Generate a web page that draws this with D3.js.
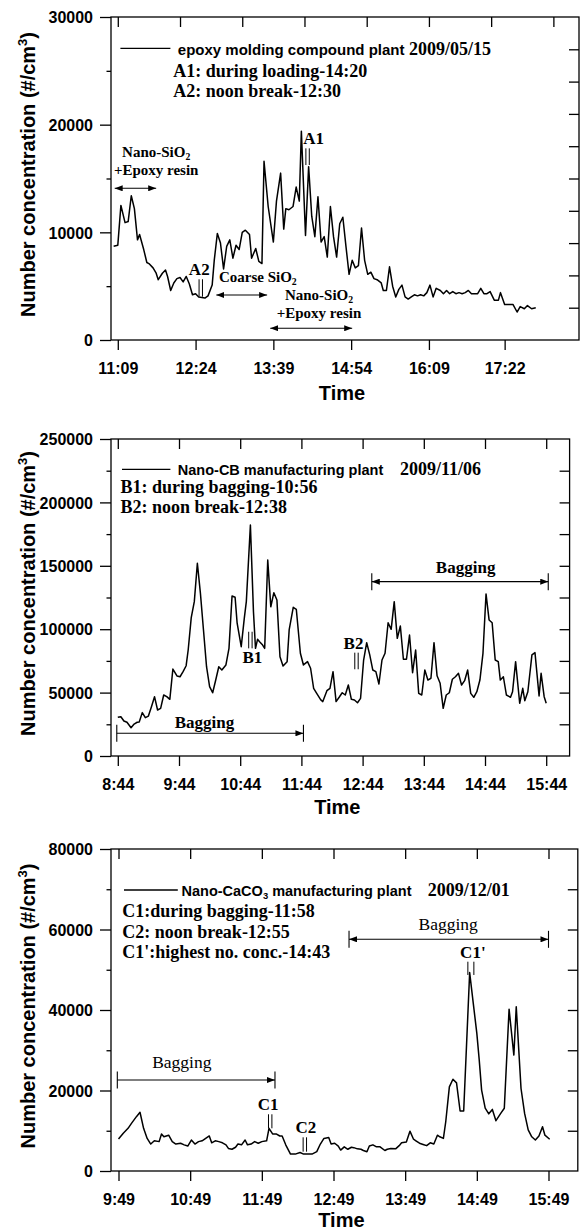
<!DOCTYPE html>
<html>
<head>
<meta charset="utf-8">
<script src="https://cdn.jsdelivr.net/npm/d3@7"></script>
<style>
  html, body { margin: 0; padding: 0; background: #fff; }
  svg { display: block; }
  .axis text { font-family: "Liberation Sans", Arial, sans-serif; font-weight: bold; font-size: 16px; fill: #000; }
  .axis line { stroke: #000; stroke-width: 1.3; }
  .sans { font-family: "Liberation Sans", Arial, sans-serif; font-weight: bold; fill: #000; }
  .serif { font-family: "Liberation Serif", "Times New Roman", serif; fill: #000; }
</style>
</head>
<body>
<svg id="chart" width="582" height="1232"></svg>
<script>
// ---------------- data ----------------
// Epoxy molding compound plant, 2009/05/15
const epoxyTimes = ["11:05","11:09","11:12","11:16","11:19","11:22","11:25","11:28","11:30","11:34",
  "11:37","11:39","11:43","11:46","11:48","11:52","11:55","11:57","12:00","12:03",
  "12:06","12:09","12:12","12:15","12:18","12:21","12:24","12:27","12:30","12:33",
  "12:36","12:40","12:42","12:45","12:48","12:51","12:54","12:57","13:00","13:03",
  "13:06","13:09","13:12","13:16","13:18","13:22","13:25","13:28","13:30","13:34",
  "13:39","13:42","13:46","13:49","13:51","13:54","13:58","14:01","14:04","14:06",
  "14:10","14:13","14:16","14:19","14:22","14:25","14:28","14:31","14:34","14:37",
  "14:40","14:43","14:46","14:49","14:52","14:55","14:58","15:01","15:04","15:07",
  "15:10","15:13","15:16","15:19","15:23","15:25","15:28","15:31","15:34","15:37",
  "15:40","15:43","15:46","15:49","15:52","15:55","15:58","16:01","16:04","16:07",
  "16:10","16:13","16:16","16:20","16:23","16:26","16:29","16:32","16:35","16:38",
  "16:41","16:44","16:47","16:50","16:53","16:56","16:59","17:02","17:05","17:08",
  "17:12","17:16","17:18","17:22","17:26","17:30","17:34","17:37","17:41","17:44",
  "17:48","17:52"];
const epoxyValues = [8700,8800,12500,10900,11000,13400,12200,9300,9800,8400,
  7200,7100,6700,6200,5600,6200,6500,5900,4600,5300,
  5700,5800,5400,5900,5200,4200,4300,4000,3950,3900,
  4100,5100,7400,9900,9000,6600,8700,9300,7600,8800,
  8400,10000,10200,9800,7600,8500,7300,7100,16600,12400,
  9100,12900,15500,10300,12200,12100,12400,14200,12900,19400,
  9700,16100,11500,9600,13300,9100,9600,7700,12400,9600,
  7700,10800,11400,8700,6100,7400,6700,6900,10400,7400,
  6100,6300,5700,5600,5300,4600,4600,6800,5000,4000,
  4700,5100,4000,3800,4000,4200,4100,4200,4100,4400,
  5100,4000,4800,4600,4300,4600,4300,4500,4300,4400,
  4300,4400,4600,4300,4300,4300,4800,4300,4300,4500,
  3700,3700,4400,3300,3300,3300,2600,3100,2900,3200,
  2900,3000];
const epoxyTickLabels = ["11:09","12:24","13:39","14:54","16:09","17:22"];

// Nano-CB manufacturing plant, 2009/11/06
const cbTimes = ["8:44","8:47","8:50","8:53","8:57","9:00","9:03","9:05","9:08","9:11",
  "9:14","9:17","9:20","9:23","9:26","9:29","9:32","9:35","9:38","9:42",
  "9:45","9:48","9:51","9:53","9:56","9:59","10:02","10:05","10:08","10:11",
  "10:14","10:17","10:20","10:23","10:26","10:30","10:33","10:36","10:39","10:41",
  "10:45","10:48","10:50","10:54","10:57","10:59","11:01","11:03","11:06","11:08",
  "11:11","11:14","11:17","11:20","11:23","11:26","11:30","11:32","11:36","11:39",
  "11:43","11:46","11:50","11:53","11:56","11:59","12:03","12:05","12:09","12:12",
  "12:15","12:18","12:21","12:24","12:27","12:30","12:33","12:36","12:39","12:42",
  "12:45","12:48","12:51","12:54","12:57","13:00","13:03","13:06","13:09","13:12",
  "13:15","13:18","13:21","13:24","13:27","13:30","13:33","13:36","13:39","13:42",
  "13:45","13:48","13:51","13:54","13:57","14:00","14:03","14:06","14:09","14:12",
  "14:15","14:18","14:21","14:24","14:27","14:30","14:33","14:36","14:39","14:42",
  "14:45","14:48","14:51","14:54","14:57","14:59","15:02","15:05","15:09","15:11",
  "15:14","15:18","15:21","15:23","15:26","15:30","15:33","15:37","15:39","15:42",
  "15:44"];
const cbValues = [30500,31000,27600,26600,22300,25200,26600,26800,34200,30200,
  31500,38900,46800,36300,37600,48100,46800,44700,68600,63100,
  62500,66500,71200,83600,109100,121700,152000,128300,99400,70400,
  54700,49900,59900,70400,67800,71800,84900,126200,125200,104700,
  86200,108600,121700,182200,113800,84900,92000,90100,87500,84900,
  154600,117700,128800,123000,78300,71000,74400,99400,117300,115700,
  81000,71800,74400,69200,53400,49400,44200,42900,51500,53400,
  66500,42900,46300,49900,48100,56000,44700,44200,42000,45500,
  75700,89400,79700,67800,66500,56800,75700,81000,105100,99900,
  121700,92800,102500,76300,76300,95400,65700,83600,49400,48100,
  67800,59900,61300,89400,63300,57300,37600,48100,49900,60500,
  62500,65200,56000,59400,67800,49400,46300,50700,59900,81000,
  127800,107300,105100,75700,74400,59900,62500,48100,46300,50700,
  74400,41600,53400,43600,50700,79700,81500,47300,65200,46800,
  41600];
const cbTickLabels = ["8:44","9:44","10:44","11:44","12:44","13:44","14:44","15:44"];

// Nano-CaCO3 manufacturing plant, 2009/12/01
const caco3Times = ["9:49","9:53","9:57","10:00","10:04","10:07","10:10","10:13","10:16","10:19",
  "10:23","10:25","10:27","10:31","10:34","10:37","10:41","10:44","10:47","10:50",
  "10:53","10:56","10:59","11:02","11:05","11:07","11:10","11:13","11:16","11:19",
  "11:21","11:24","11:27","11:29","11:32","11:35","11:37","11:40","11:43","11:46",
  "11:49","11:53","11:55","11:58","12:01","12:04","12:06","12:09","12:13","12:17",
  "12:21","12:24","12:27","12:31","12:35","12:38","12:41","12:45","12:47","12:50",
  "12:53","12:55","12:58","13:01","13:04","13:06","13:09","13:12","13:14","13:17",
  "13:19","13:22","13:25","13:28","13:32","13:34","13:37","13:41","13:44","13:46",
  "13:50","13:53","13:56","13:58","14:01","14:04","14:07","14:10","14:13","14:16",
  "14:18","14:21","14:23","14:26","14:29","14:32","14:35","14:38","14:43","14:46",
  "14:49","14:51","14:53","14:56","14:59","15:02","15:05","15:09","15:12","15:16",
  "15:20","15:22","15:26","15:29","15:32","15:35","15:38","15:41","15:44","15:46",
  "15:50"];
const caco3Values = [7950,9400,10600,11900,13500,14600,10600,8100,6700,7500,
  7300,9200,8500,8900,7300,6700,6900,6500,6200,7700,
  6700,7300,7500,8100,8700,7000,7500,7300,7000,6500,
  5600,5400,5900,6700,6500,7700,6500,6700,7300,6900,
  7300,7500,10600,9200,9200,8700,8700,6500,4200,4200,
  4600,4200,4200,4200,4800,6700,8100,8300,6700,6900,
  6200,5200,6000,5400,5900,5800,5500,5400,5100,4800,
  6200,6500,6000,6000,5100,5400,5600,5500,6300,7000,
  7200,9900,7900,7500,6900,6600,6300,7000,6700,8900,
  8500,8100,12300,20900,22800,21900,14900,14900,49300,41700,
  34200,27600,20100,15600,14200,15300,12500,14300,15600,40200,
  28800,40800,20500,14300,10200,8500,7700,8700,11000,8900,
  7900];
const caco3TickLabels = ["9:49","10:49","11:49","12:49","13:49","14:49","15:49"];

// ---------------- drawing ----------------
const svg = d3.select("#chart");
const parseHM = d3.timeParse("%H:%M");
const parseHMS = d3.timeParse("%H:%M:%S");

const defs = svg.append("defs");
defs.append("marker")
  .attr("id", "head")
  .attr("viewBox", "0 -3 8 6")
  .attr("markerUnits", "userSpaceOnUse")
  .attr("markerWidth", 8).attr("markerHeight", 6)
  .attr("refX", 8).attr("refY", 0)
  .attr("orient", "auto-start-reverse")
  .append("path").attr("d", "M0,-3L8,0L0,3Z").attr("fill", "#000");

function addText(g, x, y, str, cls, size, anchor) {
  return g.append("text").attr("class", cls).attr("x", x).attr("y", y)
    .attr("font-size", size).attr("text-anchor", anchor || "start").text(str);
}

// text with a subscript digit in the middle or at the end
function addSubText(g, x, y, before, sub, after, cls, size, anchor) {
  const t = g.append("text").attr("class", cls).attr("x", x).attr("y", y)
    .attr("font-size", size).attr("text-anchor", anchor || "start");
  t.append("tspan").text(before);
  t.append("tspan").attr("font-size", size * 0.65).attr("dy", size * 0.2).text(sub);
  if (after) t.append("tspan").attr("dy", -size * 0.2).text(after);
  return t;
}

function drawPanel(p) {
  const x = d3.scaleTime().domain(p.xDomain.map(parseHMS)).range([p.left, p.right]);
  const y = d3.scaleLinear().domain([0, p.yMax]).range([p.bottom, p.top]);
  const g = svg.append("g");

  // bottom axis with labels
  const bottom = g.append("g").attr("class", "axis").attr("transform", `translate(0,${p.bottom})`)
    .call(d3.axisBottom(x).tickValues(p.xLabels.map(parseHM)).tickSize(10)
      .tickFormat((d, i) => p.xLabels[i]));
  bottom.selectAll("text").attr("y", 34).attr("dy", null);

  // top axis: hourly inward ticks
  const first = parseHM(p.xLabels[0]);
  const hourly = d3.range(p.topCount).map(i => d3.timeMinute.offset(first, 60 * i));
  g.append("g").attr("class", "axis").attr("transform", `translate(0,${p.top})`)
    .call(d3.axisTop(x).tickValues(hourly).tickSize(-10).tickFormat(""));

  // left axis: labelled majors + short minors
  const left = g.append("g").attr("class", "axis").attr("transform", `translate(${p.left},0)`)
    .call(d3.axisLeft(y).tickValues(p.yMajor).tickSize(11).tickFormat(d3.format("d")));
  left.selectAll("text").attr("x", -18).attr("dy", "0.36em");
  const minors = d3.range(0, p.yMax + 1, p.yMinorStep).filter(v => !p.yMajor.includes(v));
  g.append("g").attr("class", "axis").attr("transform", `translate(${p.left},0)`)
    .call(d3.axisLeft(y).tickValues(minors).tickSize(4.5).tickFormat(""));

  // right axis: inward ticks
  g.append("g").attr("class", "axis").attr("transform", `translate(${p.right},0)`)
    .call(d3.axisRight(y).tickValues(d3.range(p.yRightStep, p.yMax, p.yRightStep)).tickSize(-10).tickFormat(""));

  g.selectAll(".domain").remove();

  // frame
  g.append("rect").attr("x", p.left).attr("y", p.top)
    .attr("width", p.right - p.left).attr("height", p.bottom - p.top)
    .attr("fill", "none").attr("stroke", "#000").attr("stroke-width", 1.3);

  // series
  const pts = p.times.map((t, i) => ({ t: parseHM(t), v: p.values[i] }));
  g.append("path").datum(pts)
    .attr("fill", "none").attr("stroke", "#000").attr("stroke-width", 1.5)
    .attr("stroke-linejoin", "round")
    .attr("d", d3.line().x(d => x(d.t)).y(d => y(d.v)));

  // axis titles
  const cy = (p.top + p.bottom) / 2 - 4;
  const yt = g.append("text").attr("class", "sans").attr("font-size", 20)
    .attr("text-anchor", "middle").attr("transform", `translate(35,${cy}) rotate(-90)`);
  yt.append("tspan").text("Number concentration (#/cm");
  yt.append("tspan").attr("font-size", 13).attr("dy", -8).text("3");
  yt.append("tspan").attr("dy", 8).text(")");
  addText(g, (p.left + p.right) / 2 - 3, p.bottom + p.titleGap, "Time", "sans", 20, "middle");

  // range arrows
  (p.arrows || []).forEach(a => {
    const x0 = x(parseHM(a.t0)), x1 = x(parseHM(a.t1)), yy = y(a.v);
    const ln = g.append("line").attr("x1", x0).attr("x2", x1).attr("y1", yy).attr("y2", yy)
      .attr("stroke", "#000").attr("stroke-width", 1.1);
    if (a.startHead) ln.attr("marker-start", "url(#head)");
    if (a.endHead) ln.attr("marker-end", "url(#head)");
    (a.bars || []).forEach(side => {
      const bx = side === "start" ? x0 : x1;
      g.append("line").attr("x1", bx).attr("x2", bx).attr("y1", yy - 8.5).attr("y2", yy + 8.5)
        .attr("stroke", "#000").attr("stroke-width", 1.1);
    });
  });

  // annotation text anchored in data space
  (p.notes || []).forEach(n => {
    const nx = x(parseHM(n.t)), ny = y(n.v);
    n.lines.forEach((l, i) => {
      const yy = ny + i * 17.7;
      let t;
      if (l.sub) t = addSubText(g, nx, yy, l.text, l.sub, "", "serif", n.size, "middle");
      else t = addText(g, nx, yy, l.text, "serif", n.size, "middle");
      t.attr("font-weight", n.weight || "bold");
    });
  });

  // sample markers ("||" with a label)
  (p.markers || []).forEach(m => {
    const mx = x(parseHM(m.t)), y0 = y(m.top), y1 = y(m.bottom);
    const gap = m.gap || 1.7;
    [-gap, gap].forEach(o => {
      g.append("line").attr("x1", mx + o).attr("x2", mx + o).attr("y1", y0).attr("y2", y1)
        .attr("stroke", "#000").attr("stroke-width", 1);
    });
    const ly = m.below ? y1 + 14.4 : y0 - 4;
    addText(g, mx + (m.dx || 0), ly, m.label, "serif", 17, "middle").attr("font-weight", "bold");
  });

  return g;
}

// ---- panel 1 ----
const g1 = drawPanel({
  times: epoxyTimes, values: epoxyValues, xLabels: epoxyTickLabels,
  left: 111, right: 579, top: 17, bottom: 340, titleGap: 60,
  xDomain: ["11:02:27", "18:33:42"], topCount: 8,
  yMax: 30000, yMajor: [0, 10000, 20000, 30000], yMinorStep: 5000, yRightStep: 3000,
  arrows: [
    { t0: "11:06", t1: "11:46", v: 14090, startHead: true, endHead: true },
    { t0: "12:44", t1: "13:33", v: 4180, startHead: true, endHead: true },
    { t0: "13:36", t1: "14:55", v: 1090, startHead: true, endHead: true }
  ],
  notes: [
    { t: "11:46", v: 16970, size: 15, lines: [{ text: "Nano-SiO", sub: "2" }, { text: "+Epoxy resin" }] },
    { t: "13:24", v: 5350, size: 15, lines: [{ text: "Coarse SiO", sub: "2" }] },
    { t: "14:23", v: 3700, size: 15, lines: [{ text: "Nano-SiO", sub: "2" }, { text: "+Epoxy resin" }] }
  ],
  markers: [
    { label: "A1", t: "14:12", top: 17800, bottom: 16250, dx: 6 },
    { label: "A2", t: "12:29", top: 5640, bottom: 4020, dx: -1.5 }
  ]
});
g1.append("line").attr("x1", 120.4).attr("x2", 170.4).attr("y1", 48.3).attr("y2", 48.3)
  .attr("stroke", "#000").attr("stroke-width", 1.3);
addText(g1, 177.8, 54.5, "epoxy molding compound plant", "sans", 15);
addText(g1, 409, 55, "2009/05/15", "serif", 18).attr("font-weight", "bold");
addText(g1, 173.3, 77.3, "A1: during loading-14:20", "serif", 18).attr("font-weight", "bold");
addText(g1, 173.3, 97.3, "A2: noon break-12:30", "serif", 18).attr("font-weight", "bold");

// ---- panel 2 ----
const g2 = drawPanel({
  times: cbTimes, values: cbValues, xLabels: cbTickLabels,
  left: 111, right: 569.6, top: 439, bottom: 756, titleGap: 58,
  xDomain: ["08:37:20", "16:06:56"], topCount: 8,
  yMax: 250000, yMajor: [0, 50000, 100000, 150000, 200000, 250000], yMinorStep: 25000, yRightStep: 25000,
  arrows: [
    { t0: "12:53", t1: "15:46", v: 137500, startHead: true, endHead: true, bars: ["start", "end"] },
    { t0: "8:43", t1: "11:46", v: 17900, endHead: true, bars: ["start", "end"] }
  ],
  notes: [
    { t: "14:25", v: 144100, size: 17, lines: [{ text: "Bagging" }] },
    { t: "10:09", v: 21800, size: 17, lines: [{ text: "Bagging" }] }
  ],
  markers: [
    { label: "B1", t: "10:54", top: 98000, bottom: 84900, below: true, dx: 2 },
    { label: "B2", t: "12:38", top: 81500, bottom: 68400, dx: -3 }
  ]
});
g2.append("line").attr("x1", 122).attr("x2", 170.4).attr("y1", 469.3).attr("y2", 469.3)
  .attr("stroke", "#000").attr("stroke-width", 1.3);
addText(g2, 177.8, 475, "Nano-CB manufacturing plant", "sans", 14.5);
addText(g2, 400, 475, "2009/11/06", "serif", 18).attr("font-weight", "bold");
addText(g2, 120.4, 493.3, "B1: during bagging-10:56", "serif", 18).attr("font-weight", "bold");
addText(g2, 120.4, 513.3, "B2: noon break-12:38", "serif", 18).attr("font-weight", "bold");

// ---- panel 3 ----
const g3 = drawPanel({
  times: caco3Times, values: caco3Values, xLabels: caco3TickLabels,
  left: 111, right: 577.8, top: 849, bottom: 1171, titleGap: 56,
  xDomain: ["09:42:43", "16:13:32"], topCount: 7,
  yMax: 80000, yMajor: [0, 20000, 40000, 60000, 80000], yMinorStep: 10000, yRightStep: 10000,
  arrows: [
    { t0: "13:02", t1: "15:49", v: 57560, startHead: true, endHead: true, bars: ["start", "end"] },
    { t0: "9:48", t1: "12:00", v: 22600, endHead: true, bars: ["start", "end"] }
  ],
  notes: [
    { t: "14:25", v: 59880, size: 17.5, weight: "normal", lines: [{ text: "Bagging" }] },
    { t: "10:42", v: 25590, size: 17.5, weight: "normal", lines: [{ text: "Bagging" }] }
  ],
  markers: [
    { label: "C1", t: "11:56", top: 14090, bottom: 10610, dx: -2 },
    { label: "C2", t: "12:25", top: 8370, bottom: 4800, dx: 1 },
    { label: "C1'", t: "14:44", top: 52000, bottom: 48700, gap: 3, dx: 2 }
  ]
});
g3.append("line").attr("x1", 124).attr("x2", 177.8).attr("y1", 890).attr("y2", 890)
  .attr("stroke", "#000").attr("stroke-width", 1.3);
addSubText(g3, 181.5, 895.7, "Nano-CaCO", "3", " manufacturing plant", "sans", 14.5);
addText(g3, 427.8, 895.7, "2009/12/01", "serif", 18).attr("font-weight", "bold");
addText(g3, 122.2, 917.3, "C1:during bagging-11:58", "serif", 18).attr("font-weight", "bold");
addText(g3, 122.2, 938, "C2: noon break-12:55", "serif", 18).attr("font-weight", "bold");
addText(g3, 122.2, 958.3, "C1':highest no. conc.-14:43", "serif", 18).attr("font-weight", "bold");
</script>
</body>
</html>
